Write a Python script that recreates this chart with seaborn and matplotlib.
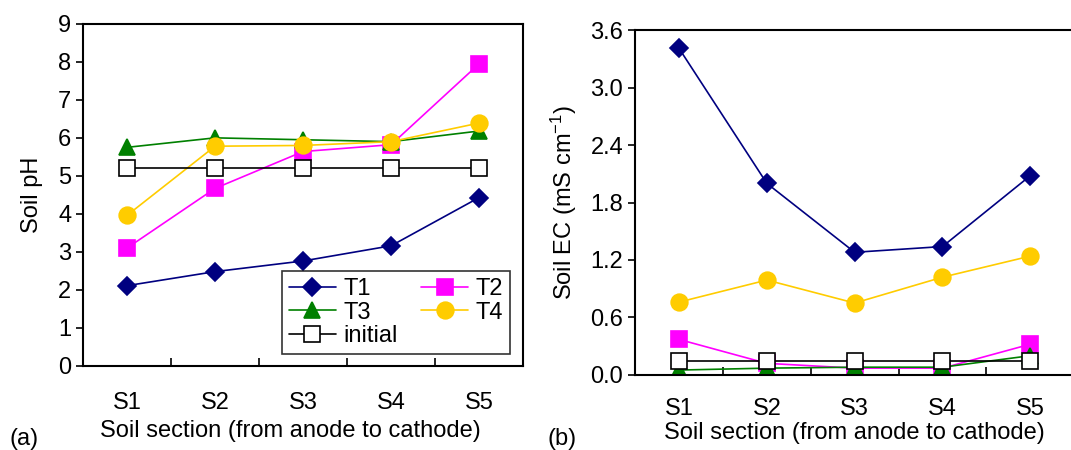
import numpy as np
import pandas as pd
import matplotlib
matplotlib.use("Agg")
import matplotlib.pyplot as plt
import seaborn as sns

sections = ["S1", "S2", "S3", "S4", "S5"]
series = ["T1", "T2", "T3", "T4", "initial"]

ph_t1 = [2.11, 2.48, 2.76, 3.16, 4.43]
ph_t2 = [3.10, 4.67, 5.64, 5.82, 7.95]
ph_t3 = [5.75, 6.00, 5.95, 5.90, 6.18]
ph_t4 = [3.96, 5.78, 5.80, 5.90, 6.39]
ph_init = [5.20, 5.20, 5.20, 5.20, 5.20]

ec_t1 = [3.41, 2.00, 1.28, 1.34, 2.08]
ec_t2 = [0.37, 0.12, 0.07, 0.07, 0.32]
ec_t3 = [0.05, 0.07, 0.08, 0.08, 0.20]
ec_t4 = [0.76, 0.99, 0.75, 1.02, 1.24]
ec_init = [0.14, 0.14, 0.14, 0.14, 0.14]

colors = {"T1": "#000080", "T2": "#FF00FF", "T3": "#008000",
          "T4": "#FFCC00", "initial": "#000000"}
markers = {"T1": "D", "T2": "s", "T3": "^", "T4": "o", "initial": "s"}
msizes = {"T1": 9, "T2": 11, "T3": 12, "T4": 12, "initial": 11}

sns.set_style("ticks")
plt.rcParams["font.family"] = ["Liberation Sans", "DejaVu Sans"]
plt.rcParams["mathtext.default"] = "regular"
plt.rcParams["font.size"] = 17
for key in ["text.color", "axes.labelcolor", "xtick.color", "ytick.color", "axes.edgecolor"]:
    plt.rcParams[key] = "black"


def long_frame(vals):
    rows = []
    for name, v in zip(series, vals):
        for s, y in zip(sections, v):
            rows.append({"section": s, "series": name, "value": y})
    return pd.DataFrame(rows)


def draw(ax, df, tpad, xpad):
    for name in series:
        sub = df[df["series"] == name]
        face = "white" if name == "initial" else colors[name]
        sns.lineplot(data=sub, x="section", y="value", ax=ax, sort=False,
                     color=colors[name], linewidth=1.2, marker=markers[name],
                     markersize=msizes[name], markerfacecolor=face,
                     markeredgecolor=colors[name], markeredgewidth=1.2,
                     label=name, legend=False)
    ax.set_xlim(-0.5, 4.5)
    ax.set_xticks(range(5))
    ax.set_xticklabels(sections)
    ax.set_xticks([0.5, 1.5, 2.5, 3.5], minor=True)
    ax.tick_params(axis="x", which="major", length=0, pad=tpad, labelsize=17)
    ax.tick_params(axis="x", which="minor", direction="in", length=6, width=1.2)
    ax.tick_params(axis="y", which="major", direction="out", length=5, width=1.2, labelsize=17)
    for sp in ax.spines.values():
        sp.set_linewidth(1.5)
        sp.set_visible(True)
    ax.set_xlabel("Soil section (from anode to cathode)", fontsize=17, labelpad=xpad)


fig = plt.figure(figsize=(10.71, 4.5), dpi=100)
ax1 = fig.add_axes([0.0775, 0.187, 0.411, 0.760])
ax2 = fig.add_axes([0.593, 0.167, 0.410, 0.766])

df_ph = long_frame([ph_t1, ph_t2, ph_t3, ph_t4, ph_init])
df_ec = long_frame([ec_t1, ec_t2, ec_t3, ec_t4, ec_init])

draw(ax1, df_ph, 19, 4)
ax1.set_ylim(0, 9)
ax1.set_yticks(np.arange(0, 10, 1))
ax1.set_ylabel("Soil pH", fontsize=17, labelpad=11)
ax1.xaxis.label.set_x(0.47)

draw(ax2, df_ec, 17, 1)
ax2.set_ylim(0, 3.6)
ax2.set_yticks(np.arange(0, 3.61, 0.6))
ax2.yaxis.set_major_formatter(matplotlib.ticker.FormatStrFormatter("%.1f"))
ax2.set_ylabel("Soil EC (mS cm$^{-1}$)", fontsize=17, labelpad=8)

h, l = ax1.get_legend_handles_labels()
order = [0, 2, 4, 1, 3]
leg = ax1.legend([h[i] for i in order], [l[i] for i in order], ncol=2,
                 loc="lower right", bbox_to_anchor=(0.97, 0.035),
                 frameon=True, fancybox=False, edgecolor="black",
                 fontsize=17, handlelength=2.0, handletextpad=0.3,
                 columnspacing=1.0, labelspacing=0.05, borderpad=0.3,
                 borderaxespad=0.0)
leg.get_frame().set_linewidth(1.2)

fig.text(0.009, 0.012, "(a)", fontsize=17)
fig.text(0.511, 0.012, "(b)", fontsize=17)

fig.savefig("out.png", dpi=100)
